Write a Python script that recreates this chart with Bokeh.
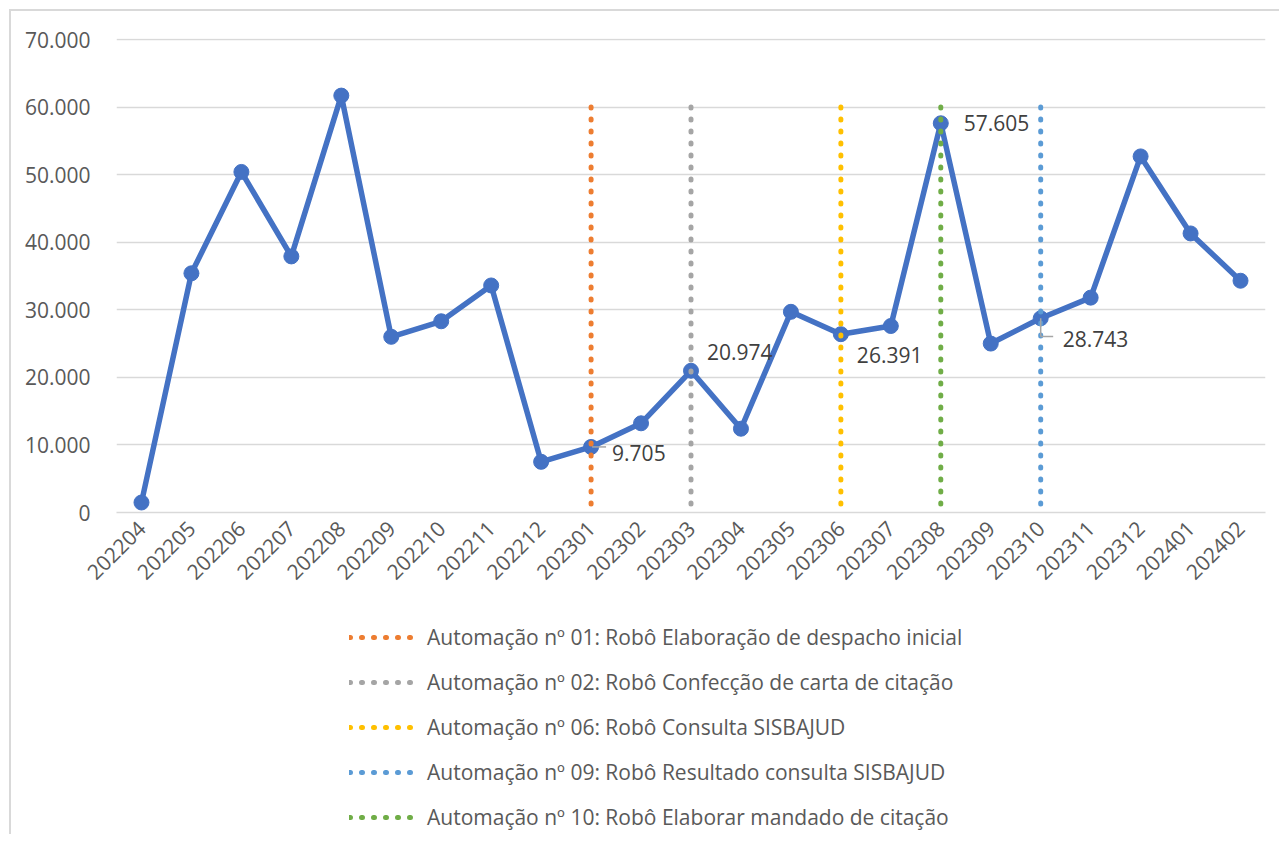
from bokeh.plotting import figure
from bokeh.layouts import column
from bokeh.models import FactorRange, Range1d, FixedTicker, CustomJSTickFormatter, Legend, ColumnDataSource
from bokeh.transform import dodge
from bokeh.core.properties import value
from bokeh.embed import file_html
from bokeh.resources import INLINE
import math

months = ["202204", "202205", "202206", "202207", "202208", "202209", "202210", "202211",
          "202212", "202301", "202302", "202303", "202304", "202305", "202306", "202307",
          "202308", "202309", "202310", "202311", "202312", "202401", "202402"]
counts = [1480, 35400, 50400, 37900, 61700, 26000, 28300, 33600,
          7500, 9705, 13200, 20974, 12400, 29700, 26391, 27600,
          57605, 25000, 28743, 31800, 52700, 41300, 34300]

auto_months = ["202301", "202303", "202306", "202310", "202308"]
auto_labels = ["Automação nº 01: Robô Elaboração de despacho inicial",
               "Automação nº 02: Robô Confecção de carta de citação",
               "Automação nº 06: Robô Consulta SISBAJUD",
               "Automação nº 09: Robô Resultado consulta SISBAJUD",
               "Automação nº 10: Robô Elaborar mandado de citação"]
auto_colors = ["#ED7D31", "#A5A5A5", "#FFC000", "#5B9BD5", "#70AD47"]
auto_top = 60000

label_months = ["202301", "202303", "202306", "202308", "202310"]
label_values = [9705, 20974, 26391, 57605, 28743]
label_texts = ["9.705", "20.974", "26.391", "57.605", "28.743"]
label_dx = [21, 16, 16, 23, 22]
label_dy = [6, -19, 21, 0, 21]

yticks = [0, 10000, 20000, 30000, 40000, 50000, 60000, 70000]

FONT = "Open Sans"
TXT = "#595959"
DOT = "1 11"
OFF = 11  # margin + border of the chart area box

p = figure(width=1279 - OFF, height=600 - OFF, x_range=FactorRange(*months, range_padding=0),
           y_range=Range1d(0, 70150), output_backend="svg", toolbar_location=None,
           min_border_top=38 - OFF, min_border_left=116 - OFF, min_border_right=14, min_border_bottom=88)
p.outline_line_color = None
p.xgrid.grid_line_color = None
p.ygrid.grid_line_color = "#D9D9D9"
p.ygrid.grid_line_width = 1.3

p.yaxis.ticker = FixedTicker(ticks=yticks)
p.yaxis.formatter = CustomJSTickFormatter(code="return tick.toString().replace(/\\B(?=(\\d{3})+(?!\\d))/g, '.');")
p.yaxis.axis_line_color = None
p.yaxis.major_tick_line_color = None
p.yaxis.minor_tick_line_color = None
p.yaxis.major_label_standoff = 20
p.yaxis.major_label_text_font = FONT
p.yaxis.major_label_text_font_size = "21px"
p.yaxis.major_label_text_color = TXT

p.xaxis.axis_line_color = "#D9D9D9"
p.xaxis.axis_line_width = 1.3
p.xaxis.major_tick_line_color = None
p.xaxis.minor_tick_line_color = None
p.xaxis.major_label_orientation = math.pi / 4
p.xaxis.major_label_standoff = 6
p.xaxis.major_label_text_font = FONT
p.xaxis.major_label_text_font_size = "21px"
p.xaxis.major_label_text_color = TXT

src = ColumnDataSource(dict(m=months, c=counts))
p.line("m", "c", source=src, line_color="#4472C4", line_width=5.5)
p.scatter("m", "c", source=src, size=15, fill_color="#4472C4", line_color="#4472C4")

for m, col in zip(auto_months, auto_colors):
    p.segment(x0=[m], y0=[auto_top], x1=[m], y1=[0], line_color=col, line_width=5,
              line_dash=DOT, line_cap="round")

# leader lines
lsrc1 = ColumnDataSource(dict(x=["202301"], y=[9705]))
p.segment(x0=dodge("x", 0.02, range=p.x_range), y0="y", x1=dodge("x", 0.3, range=p.x_range), y1="y",
          source=lsrc1, line_color="#A6A6A6", line_width=1.5)
lsrc2 = ColumnDataSource(dict(x=["202310"], y=[28743], y2=[28743 - 2700]))
p.segment(x0="x", y0="y", x1="x", y1="y2", source=lsrc2, line_color="#A6A6A6", line_width=1.5)
p.segment(x0="x", y0="y2", x1=dodge("x", 0.25, range=p.x_range), y1="y2", source=lsrc2,
          line_color="#A6A6A6", line_width=1.5)

lab_src = ColumnDataSource(dict(x=label_months, y=label_values, t=label_texts, dx=label_dx, dy=label_dy))
p.text("x", "y", text="t", source=lab_src, x_offset="dx", y_offset="dy",
       text_font=value(FONT), text_font_size="21px", text_color="#404040",
       text_baseline="middle", text_align="left")

# legend figure (its renderers hold the same data but sit outside its visible range)
lg = figure(width=1279 - OFF, height=234, x_range=FactorRange(*months), y_range=Range1d(-2, -1),
            output_backend="svg", toolbar_location=None, min_border=0)
lg.axis.visible = False
lg.grid.visible = False
lg.outline_line_color = None
items = []
for m, lab, col in zip(auto_months, auto_labels, auto_colors):
    r = lg.segment(x0=[m], y0=[auto_top], x1=[m], y1=[0], line_color=col, line_width=5,
                   line_dash=DOT, line_cap="round")
    items.append((lab, [r]))
legend = Legend(items=items, orientation="vertical", location=(233, 3))
legend.border_line_color = None
legend.background_fill_alpha = 0
legend.label_text_font = FONT
legend.label_text_font_size = "21px"
legend.label_text_color = TXT
legend.glyph_width = 66
legend.glyph_height = 22
legend.label_height = 22
legend.spacing = 17
legend.padding = 0
legend.margin = 0
legend.label_standoff = 12
lg.add_layout(legend, "center")

layout = column(p, lg, spacing=0)
layout.styles = {"border-left": "2px solid #D9D9D9", "border-top": "2px solid #D9D9D9",
                 "margin-left": "9px", "margin-top": "9px"}
open("out.html", "w").write(file_html(layout, INLINE))
